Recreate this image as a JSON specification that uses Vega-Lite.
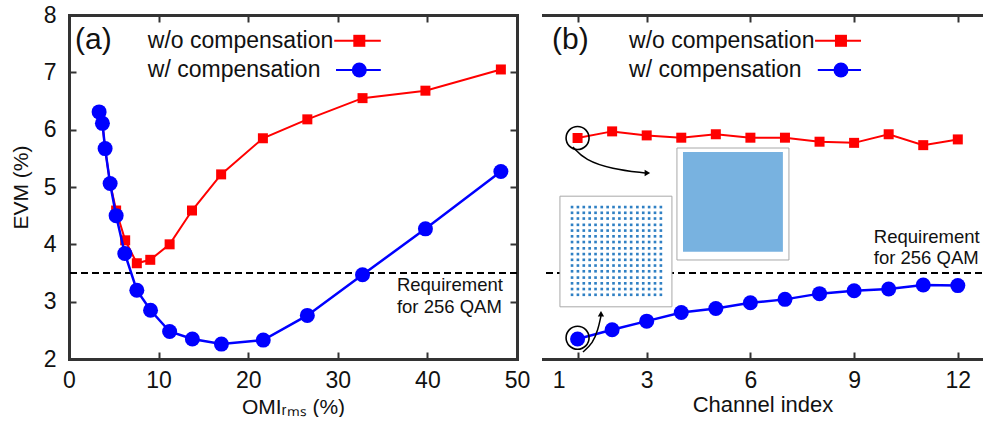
{
"$schema": "https://vega.github.io/schema/vega-lite/v6.json",
"padding": {"left": 10, "top": 4, "right": 0, "bottom": 0},
"spacing": 12,
"config": {
  "view": {"stroke": null},
  "font": "Liberation Sans",
  "axis": {"grid": false, "domainColor": "#333", "domainWidth": 3, "domainCap": "square", "tickColor": "#333", "tickWidth": 2, "tickSize": -7, "labelFontSize": 23, "labelColor": "#111", "labelPadding": 17, "labelFlush": false, "labelOverlap": false, "titleFontSize": 21, "titleFontWeight": "normal", "titleColor": "#111", "labelFont": "Liberation Sans", "titleFont": "Liberation Sans"},
  "text": {"font": "Liberation Sans"}
},
"datasets": {
  "L": [
    {"s":"wo","x":3.36,"y":6.31},{"s":"wo","x":3.73,"y":6.11},{"s":"wo","x":4.03,"y":5.67},{"s":"wo","x":4.59,"y":5.06},{"s":"wo","x":5.26,"y":4.59},{"s":"wo","x":6.27,"y":4.07},{"s":"wo","x":7.57,"y":3.67},{"s":"wo","x":9.07,"y":3.73},{"s":"wo","x":11.23,"y":4.0},{"s":"wo","x":13.73,"y":4.59},{"s":"wo","x":16.98,"y":5.22},{"s":"wo","x":21.64,"y":5.85},{"s":"wo","x":26.6,"y":6.18},{"s":"wo","x":32.76,"y":6.55},{"s":"wo","x":39.78,"y":6.68},{"s":"wo","x":48.2,"y":7.05},
    {"s":"w","x":3.36,"y":6.31},{"s":"w","x":3.73,"y":6.11},{"s":"w","x":4.03,"y":5.67},{"s":"w","x":4.59,"y":5.06},{"s":"w","x":5.26,"y":4.50},{"s":"w","x":6.23,"y":3.84},{"s":"w","x":7.57,"y":3.20},{"s":"w","x":9.10,"y":2.85},{"s":"w","x":11.23,"y":2.48},{"s":"w","x":13.77,"y":2.35},{"s":"w","x":17.01,"y":2.26},{"s":"w","x":21.68,"y":2.33},{"s":"w","x":26.6,"y":2.76},{"s":"w","x":32.76,"y":3.47},{"s":"w","x":39.78,"y":4.27},{"s":"w","x":48.2,"y":5.27}
  ],
  "R": [
    {"s":"wo","x":1,"y":5.855},{"s":"wo","x":2,"y":5.97},{"s":"wo","x":3,"y":5.90},{"s":"wo","x":4,"y":5.86},{"s":"wo","x":5,"y":5.92},{"s":"wo","x":6,"y":5.86},{"s":"wo","x":7,"y":5.86},{"s":"wo","x":8,"y":5.79},{"s":"wo","x":9,"y":5.77},{"s":"wo","x":10,"y":5.92},{"s":"wo","x":11,"y":5.73},{"s":"wo","x":12,"y":5.83},
    {"s":"w","x":1,"y":2.35},{"s":"w","x":2,"y":2.51},{"s":"w","x":3,"y":2.66},{"s":"w","x":4,"y":2.81},{"s":"w","x":5,"y":2.88},{"s":"w","x":6,"y":2.98},{"s":"w","x":7,"y":3.04},{"s":"w","x":8,"y":3.14},{"s":"w","x":9,"y":3.19},{"s":"w","x":10,"y":3.22},{"s":"w","x":11,"y":3.29},{"s":"w","x":12,"y":3.28}
  ],
  "qam": [
    {"x":0.84,"y":4.65},{"x":1.01,"y":4.65},{"x":1.18,"y":4.65},{"x":1.35,"y":4.65},{"x":1.52,"y":4.65},{"x":1.70,"y":4.65},{"x":1.87,"y":4.65},{"x":2.04,"y":4.65},{"x":2.21,"y":4.65},{"x":2.38,"y":4.65},{"x":2.55,"y":4.65},{"x":2.73,"y":4.65},{"x":2.90,"y":4.65},{"x":3.07,"y":4.65},{"x":3.24,"y":4.65},{"x":3.41,"y":4.65},
    {"x":0.84,"y":4.55},{"x":1.01,"y":4.55},{"x":1.18,"y":4.55},{"x":1.35,"y":4.55},{"x":1.52,"y":4.55},{"x":1.70,"y":4.55},{"x":1.87,"y":4.55},{"x":2.04,"y":4.55},{"x":2.21,"y":4.55},{"x":2.38,"y":4.55},{"x":2.55,"y":4.55},{"x":2.73,"y":4.55},{"x":2.90,"y":4.55},{"x":3.07,"y":4.55},{"x":3.24,"y":4.55},{"x":3.41,"y":4.55},
    {"x":0.84,"y":4.45},{"x":1.01,"y":4.45},{"x":1.18,"y":4.45},{"x":1.35,"y":4.45},{"x":1.52,"y":4.45},{"x":1.70,"y":4.45},{"x":1.87,"y":4.45},{"x":2.04,"y":4.45},{"x":2.21,"y":4.45},{"x":2.38,"y":4.45},{"x":2.55,"y":4.45},{"x":2.73,"y":4.45},{"x":2.90,"y":4.45},{"x":3.07,"y":4.45},{"x":3.24,"y":4.45},{"x":3.41,"y":4.45},
    {"x":0.84,"y":4.34},{"x":1.01,"y":4.34},{"x":1.18,"y":4.34},{"x":1.35,"y":4.34},{"x":1.52,"y":4.34},{"x":1.70,"y":4.34},{"x":1.87,"y":4.34},{"x":2.04,"y":4.34},{"x":2.21,"y":4.34},{"x":2.38,"y":4.34},{"x":2.55,"y":4.34},{"x":2.73,"y":4.34},{"x":2.90,"y":4.34},{"x":3.07,"y":4.34},{"x":3.24,"y":4.34},{"x":3.41,"y":4.34},
    {"x":0.84,"y":4.24},{"x":1.01,"y":4.24},{"x":1.18,"y":4.24},{"x":1.35,"y":4.24},{"x":1.52,"y":4.24},{"x":1.70,"y":4.24},{"x":1.87,"y":4.24},{"x":2.04,"y":4.24},{"x":2.21,"y":4.24},{"x":2.38,"y":4.24},{"x":2.55,"y":4.24},{"x":2.73,"y":4.24},{"x":2.90,"y":4.24},{"x":3.07,"y":4.24},{"x":3.24,"y":4.24},{"x":3.41,"y":4.24},
    {"x":0.84,"y":4.14},{"x":1.01,"y":4.14},{"x":1.18,"y":4.14},{"x":1.35,"y":4.14},{"x":1.52,"y":4.14},{"x":1.70,"y":4.14},{"x":1.87,"y":4.14},{"x":2.04,"y":4.14},{"x":2.21,"y":4.14},{"x":2.38,"y":4.14},{"x":2.55,"y":4.14},{"x":2.73,"y":4.14},{"x":2.90,"y":4.14},{"x":3.07,"y":4.14},{"x":3.24,"y":4.14},{"x":3.41,"y":4.14},
    {"x":0.84,"y":4.04},{"x":1.01,"y":4.04},{"x":1.18,"y":4.04},{"x":1.35,"y":4.04},{"x":1.52,"y":4.04},{"x":1.70,"y":4.04},{"x":1.87,"y":4.04},{"x":2.04,"y":4.04},{"x":2.21,"y":4.04},{"x":2.38,"y":4.04},{"x":2.55,"y":4.04},{"x":2.73,"y":4.04},{"x":2.90,"y":4.04},{"x":3.07,"y":4.04},{"x":3.24,"y":4.04},{"x":3.41,"y":4.04},
    {"x":0.84,"y":3.93},{"x":1.01,"y":3.93},{"x":1.18,"y":3.93},{"x":1.35,"y":3.93},{"x":1.52,"y":3.93},{"x":1.70,"y":3.93},{"x":1.87,"y":3.93},{"x":2.04,"y":3.93},{"x":2.21,"y":3.93},{"x":2.38,"y":3.93},{"x":2.55,"y":3.93},{"x":2.73,"y":3.93},{"x":2.90,"y":3.93},{"x":3.07,"y":3.93},{"x":3.24,"y":3.93},{"x":3.41,"y":3.93},
    {"x":0.84,"y":3.83},{"x":1.01,"y":3.83},{"x":1.18,"y":3.83},{"x":1.35,"y":3.83},{"x":1.52,"y":3.83},{"x":1.70,"y":3.83},{"x":1.87,"y":3.83},{"x":2.04,"y":3.83},{"x":2.21,"y":3.83},{"x":2.38,"y":3.83},{"x":2.55,"y":3.83},{"x":2.73,"y":3.83},{"x":2.90,"y":3.83},{"x":3.07,"y":3.83},{"x":3.24,"y":3.83},{"x":3.41,"y":3.83},
    {"x":0.84,"y":3.73},{"x":1.01,"y":3.73},{"x":1.18,"y":3.73},{"x":1.35,"y":3.73},{"x":1.52,"y":3.73},{"x":1.70,"y":3.73},{"x":1.87,"y":3.73},{"x":2.04,"y":3.73},{"x":2.21,"y":3.73},{"x":2.38,"y":3.73},{"x":2.55,"y":3.73},{"x":2.73,"y":3.73},{"x":2.90,"y":3.73},{"x":3.07,"y":3.73},{"x":3.24,"y":3.73},{"x":3.41,"y":3.73},
    {"x":0.84,"y":3.63},{"x":1.01,"y":3.63},{"x":1.18,"y":3.63},{"x":1.35,"y":3.63},{"x":1.52,"y":3.63},{"x":1.70,"y":3.63},{"x":1.87,"y":3.63},{"x":2.04,"y":3.63},{"x":2.21,"y":3.63},{"x":2.38,"y":3.63},{"x":2.55,"y":3.63},{"x":2.73,"y":3.63},{"x":2.90,"y":3.63},{"x":3.07,"y":3.63},{"x":3.24,"y":3.63},{"x":3.41,"y":3.63},
    {"x":0.84,"y":3.53},{"x":1.01,"y":3.53},{"x":1.18,"y":3.53},{"x":1.35,"y":3.53},{"x":1.52,"y":3.53},{"x":1.70,"y":3.53},{"x":1.87,"y":3.53},{"x":2.04,"y":3.53},{"x":2.21,"y":3.53},{"x":2.38,"y":3.53},{"x":2.55,"y":3.53},{"x":2.73,"y":3.53},{"x":2.90,"y":3.53},{"x":3.07,"y":3.53},{"x":3.24,"y":3.53},{"x":3.41,"y":3.53},
    {"x":0.84,"y":3.42},{"x":1.01,"y":3.42},{"x":1.18,"y":3.42},{"x":1.35,"y":3.42},{"x":1.52,"y":3.42},{"x":1.70,"y":3.42},{"x":1.87,"y":3.42},{"x":2.04,"y":3.42},{"x":2.21,"y":3.42},{"x":2.38,"y":3.42},{"x":2.55,"y":3.42},{"x":2.73,"y":3.42},{"x":2.90,"y":3.42},{"x":3.07,"y":3.42},{"x":3.24,"y":3.42},{"x":3.41,"y":3.42},
    {"x":0.84,"y":3.32},{"x":1.01,"y":3.32},{"x":1.18,"y":3.32},{"x":1.35,"y":3.32},{"x":1.52,"y":3.32},{"x":1.70,"y":3.32},{"x":1.87,"y":3.32},{"x":2.04,"y":3.32},{"x":2.21,"y":3.32},{"x":2.38,"y":3.32},{"x":2.55,"y":3.32},{"x":2.73,"y":3.32},{"x":2.90,"y":3.32},{"x":3.07,"y":3.32},{"x":3.24,"y":3.32},{"x":3.41,"y":3.32},
    {"x":0.84,"y":3.22},{"x":1.01,"y":3.22},{"x":1.18,"y":3.22},{"x":1.35,"y":3.22},{"x":1.52,"y":3.22},{"x":1.70,"y":3.22},{"x":1.87,"y":3.22},{"x":2.04,"y":3.22},{"x":2.21,"y":3.22},{"x":2.38,"y":3.22},{"x":2.55,"y":3.22},{"x":2.73,"y":3.22},{"x":2.90,"y":3.22},{"x":3.07,"y":3.22},{"x":3.24,"y":3.22},{"x":3.41,"y":3.22},
    {"x":0.84,"y":3.12},{"x":1.01,"y":3.12},{"x":1.18,"y":3.12},{"x":1.35,"y":3.12},{"x":1.52,"y":3.12},{"x":1.70,"y":3.12},{"x":1.87,"y":3.12},{"x":2.04,"y":3.12},{"x":2.21,"y":3.12},{"x":2.38,"y":3.12},{"x":2.55,"y":3.12},{"x":2.73,"y":3.12},{"x":2.90,"y":3.12},{"x":3.07,"y":3.12},{"x":3.24,"y":3.12},{"x":3.41,"y":3.12}
  ]
},
"hconcat": [
  {
    "width": 448, "height": 344,
    "layer": [
      {"data": {"values": [{"y": 3.5}]}, "mark": {"type": "rule", "strokeDash": [7, 4], "strokeWidth": 2, "color": "black"},
       "encoding": {"y": {"field": "y", "type": "quantitative", "axis": null}}},
      {"data": {"name": "L"}, "transform": [{"filter": "datum.s === 'wo'"}],
       "mark": {"type": "line", "color": "#ff0000", "strokeWidth": 2},
       "encoding": {
         "x": {"field": "x", "type": "quantitative", "scale": {"domain": [0, 50], "nice": false, "zero": false},
               "axis": {"orient": "bottom", "values": [0, 10, 20, 30, 40, 50], "title": "OMIᵣₘₛ (%)", "titlePadding": 4}},
         "y": {"field": "y", "type": "quantitative", "scale": {"domain": [2, 8], "nice": false, "zero": false},
               "axis": {"orient": "left", "values": [2, 3, 4, 5, 6, 7, 8], "title": "EVM (%)", "titlePadding": 12, "labelPadding": 20}}}},
      {"data": {"name": "L"}, "transform": [{"filter": "datum.s === 'wo'"}],
       "mark": {"type": "point", "shape": "square", "filled": true, "color": "#ff0000", "size": 100, "opacity": 1},
       "encoding": {"x": {"field": "x", "type": "quantitative", "axis": null}, "y": {"field": "y", "type": "quantitative", "axis": null}}},
      {"data": {"name": "L"}, "transform": [{"filter": "datum.s === 'w'"}],
       "mark": {"type": "line", "color": "#0000ff", "strokeWidth": 2.5},
       "encoding": {
         "x": {"field": "x", "type": "quantitative", "axis": {"orient": "top", "values": [0, 10, 20, 30, 40, 50], "labels": false, "title": null}},
         "y": {"field": "y", "type": "quantitative", "axis": {"orient": "right", "values": [2, 3, 4, 5, 6, 7, 8], "labels": false, "title": null}}}},
      {"data": {"name": "L"}, "transform": [{"filter": "datum.s === 'w'"}],
       "mark": {"type": "point", "shape": "circle", "filled": true, "color": "#0000ff", "size": 225, "opacity": 1},
       "encoding": {"x": {"field": "x", "type": "quantitative", "axis": null}, "y": {"field": "y", "type": "quantitative", "axis": null}}},
      {"data": {"values": [{"x": 0.67, "y": 7.56, "t": "(a)"}]},
       "mark": {"type": "text", "align": "left", "baseline": "middle", "fontSize": 30, "color": "#111"},
       "encoding": {"x": {"field": "x", "type": "quantitative", "axis": null}, "y": {"field": "y", "type": "quantitative", "axis": null}, "text": {"field": "t"}}},
      {"data": {"values": [{"x": 8.8, "y": 7.55, "t": "w/o compensation"}, {"x": 8.8, "y": 7.04, "t": "w/ compensation"}]},
       "mark": {"type": "text", "align": "left", "baseline": "middle", "fontSize": 23, "color": "#111"},
       "encoding": {"x": {"field": "x", "type": "quantitative", "axis": null}, "y": {"field": "y", "type": "quantitative", "axis": null}, "text": {"field": "t"}}},
      {"data": {"values": [{"x": 36.6, "y": 3.29, "t": "Requirement"}, {"x": 36.6, "y": 2.91, "t": "for 256 QAM"}]},
       "mark": {"type": "text", "align": "left", "baseline": "middle", "fontSize": 18.5, "color": "#111"},
       "encoding": {"x": {"field": "x", "type": "quantitative", "axis": null}, "y": {"field": "y", "type": "quantitative", "axis": null}, "text": {"field": "t"}}},
      {"data": {"values": [{"s": "wo", "x": 29.6, "x2": 34.8, "y": 7.55}, {"s": "w", "x": 29.8, "x2": 34.8, "y": 7.04}]},
       "mark": {"type": "rule", "strokeWidth": 2},
       "encoding": {"x": {"field": "x", "type": "quantitative", "axis": null}, "x2": {"field": "x2"}, "y": {"field": "y", "type": "quantitative", "axis": null},
                    "color": {"field": "s", "type": "nominal", "scale": {"domain": ["wo", "w"], "range": ["#ff0000", "#0000ff"]}, "legend": null}}},
      {"data": {"values": [{"s": "wo", "x": 32.4, "y": 7.55}, {"s": "w", "x": 32.4, "y": 7.04}]},
       "mark": {"type": "point", "filled": true, "opacity": 1},
       "encoding": {"x": {"field": "x", "type": "quantitative", "axis": null}, "y": {"field": "y", "type": "quantitative", "axis": null},
                    "color": {"field": "s", "type": "nominal", "scale": {"domain": ["wo", "w"], "range": ["#ff0000", "#0000ff"]}, "legend": null},
                    "shape": {"field": "s", "type": "nominal", "scale": {"domain": ["wo", "w"], "range": ["square", "circle"]}, "legend": null},
                    "size": {"field": "s", "type": "nominal", "scale": {"domain": ["wo", "w"], "range": [144, 225]}, "legend": null}}}
    ]
  },
  {
    "width": 439, "height": 344,
    "layer": [
      {"data": {"values": [{"y": 3.5}]}, "mark": {"type": "rule", "strokeDash": [7, 4], "strokeWidth": 2, "color": "black"},
       "encoding": {"y": {"field": "y", "type": "quantitative", "axis": null}}},
      {"data": {"values": [{"x": 0.49, "x2": 3.73, "y": 4.84, "y2": 2.91}, {"x": 3.875, "x2": 7.115, "y": 5.68, "y2": 3.727}]},
       "mark": {"type": "rect", "fill": "white", "stroke": "#a8a8a8", "strokeWidth": 1},
       "encoding": {"x": {"field": "x", "type": "quantitative", "axis": null}, "x2": {"field": "x2"}, "y": {"field": "y", "type": "quantitative", "axis": null}, "y2": {"field": "y2"}}},
      {"data": {"values": [{"x": 4.05, "x2": 6.94, "y": 5.61, "y2": 3.87}]},
       "mark": {"type": "rect", "fill": "#78b2e0"},
       "encoding": {"x": {"field": "x", "type": "quantitative", "axis": null}, "x2": {"field": "x2"}, "y": {"field": "y", "type": "quantitative", "axis": null}, "y2": {"field": "y2"}}},
      {"data": {"name": "qam"},
       "mark": {"type": "point", "shape": "square", "filled": true, "color": "#2f80c4", "size": 7, "opacity": 1},
       "encoding": {"x": {"field": "x", "type": "quantitative", "axis": null}, "y": {"field": "y", "type": "quantitative", "axis": null}}},
      {"data": {"name": "R"}, "transform": [{"filter": "datum.s === 'wo'"}],
       "mark": {"type": "line", "color": "#ff0000", "strokeWidth": 2},
       "encoding": {
         "x": {"field": "x", "type": "quantitative", "scale": {"domain": [0, 12.7], "nice": false, "zero": false},
               "axis": {"orient": "bottom", "values": [1, 3, 6, 9, 12], "title": "Channel index", "titleFontSize": 22, "titlePadding": 2,
                        "labelOffset": {"condition": {"test": "datum.value === 1", "value": -19}, "value": 0}}},
         "y": {"field": "y", "type": "quantitative", "scale": {"domain": [2, 8], "nice": false, "zero": false},
               "axis": {"orient": "left", "values": [2, 3, 4, 5, 6, 7, 8], "labels": false, "title": null}}}},
      {"data": {"name": "R"}, "transform": [{"filter": "datum.s === 'wo'"}],
       "mark": {"type": "point", "shape": "square", "filled": true, "color": "#ff0000", "size": 100, "opacity": 1},
       "encoding": {"x": {"field": "x", "type": "quantitative", "axis": null}, "y": {"field": "y", "type": "quantitative", "axis": null}}},
      {"data": {"name": "R"}, "transform": [{"filter": "datum.s === 'w'"}],
       "mark": {"type": "line", "color": "#0000ff", "strokeWidth": 2.5},
       "encoding": {
         "x": {"field": "x", "type": "quantitative", "axis": {"orient": "top", "values": [1, 3, 6, 9, 12], "labels": false, "title": null}},
         "y": {"field": "y", "type": "quantitative", "axis": null}}},
      {"data": {"name": "R"}, "transform": [{"filter": "datum.s === 'w'"}],
       "mark": {"type": "point", "shape": "circle", "filled": true, "color": "#0000ff", "size": 225, "opacity": 1},
       "encoding": {"x": {"field": "x", "type": "quantitative", "axis": null}, "y": {"field": "y", "type": "quantitative", "axis": null}}},
      {"data": {"values": [{"x": 1, "y": 5.855}, {"x": 1, "y": 2.37}]},
       "mark": {"type": "point", "shape": "circle", "filled": false, "color": "black", "strokeWidth": 1.6, "size": 529, "opacity": 1},
       "encoding": {"x": {"field": "x", "type": "quantitative", "axis": null}, "y": {"field": "y", "type": "quantitative", "axis": null}}},
      {"data": {"values": [
         {"g": "u", "o": 1, "x": 0.867, "y": 5.698}, {"g": "u", "o": 2, "x": 1.214, "y": 5.471}, {"g": "u", "o": 3, "x": 1.995, "y": 5.314}, {"g": "u", "o": 4, "x": 2.95, "y": 5.244},
         {"g": "d", "o": 1, "x": 1.156, "y": 2.122}, {"g": "d", "o": 2, "x": 1.445, "y": 2.279}, {"g": "d", "o": 3, "x": 1.589, "y": 2.506}, {"g": "d", "o": 4, "x": 1.677, "y": 2.75}]},
       "mark": {"type": "line", "color": "black", "strokeWidth": 1.5, "interpolate": "basis"},
       "encoding": {"x": {"field": "x", "type": "quantitative", "axis": null}, "y": {"field": "y", "type": "quantitative", "axis": null}, "detail": {"field": "g"}, "order": {"field": "o", "type": "quantitative"}}},
      {"data": {"values": [{"x": 3.02, "y": 5.244, "sh": "triangle-right"}, {"x": 1.677, "y": 2.79, "sh": "triangle-up"}]},
       "mark": {"type": "point", "filled": true, "color": "black", "size": 40, "opacity": 1},
       "encoding": {"x": {"field": "x", "type": "quantitative", "axis": null}, "y": {"field": "y", "type": "quantitative", "axis": null},
                    "shape": {"field": "sh", "type": "nominal", "scale": null}}},
      {"data": {"values": [{"x": 0.26, "y": 7.56, "t": "(b)"}]},
       "mark": {"type": "text", "align": "left", "baseline": "middle", "fontSize": 30, "color": "#111"},
       "encoding": {"x": {"field": "x", "type": "quantitative", "axis": null}, "y": {"field": "y", "type": "quantitative", "axis": null}, "text": {"field": "t"}}},
      {"data": {"values": [{"x": 2.49, "y": 7.55, "t": "w/o compensation"}, {"x": 2.49, "y": 7.04, "t": "w/ compensation"}]},
       "mark": {"type": "text", "align": "left", "baseline": "middle", "fontSize": 23, "color": "#111"},
       "encoding": {"x": {"field": "x", "type": "quantitative", "axis": null}, "y": {"field": "y", "type": "quantitative", "axis": null}, "text": {"field": "t"}}},
      {"data": {"values": [{"x": 9.57, "y": 4.13, "t": "Requirement"}, {"x": 9.57, "y": 3.76, "t": "for 256 QAM"}]},
       "mark": {"type": "text", "align": "left", "baseline": "middle", "fontSize": 18.5, "color": "#111"},
       "encoding": {"x": {"field": "x", "type": "quantitative", "axis": null}, "y": {"field": "y", "type": "quantitative", "axis": null}, "text": {"field": "t"}}},
      {"data": {"values": [{"s": "wo", "x": 7.87, "x2": 9.2, "y": 7.55}, {"s": "w", "x": 7.95, "x2": 9.2, "y": 7.04}]},
       "mark": {"type": "rule", "strokeWidth": 2},
       "encoding": {"x": {"field": "x", "type": "quantitative", "axis": null}, "x2": {"field": "x2"}, "y": {"field": "y", "type": "quantitative", "axis": null},
                    "color": {"field": "s", "type": "nominal", "scale": {"domain": ["wo", "w"], "range": ["#ff0000", "#0000ff"]}, "legend": null}}},
      {"data": {"values": [{"s": "wo", "x": 8.62, "y": 7.55}, {"s": "w", "x": 8.62, "y": 7.04}]},
       "mark": {"type": "point", "filled": true, "opacity": 1},
       "encoding": {"x": {"field": "x", "type": "quantitative", "axis": null}, "y": {"field": "y", "type": "quantitative", "axis": null},
                    "color": {"field": "s", "type": "nominal", "scale": {"domain": ["wo", "w"], "range": ["#ff0000", "#0000ff"]}, "legend": null},
                    "shape": {"field": "s", "type": "nominal", "scale": {"domain": ["wo", "w"], "range": ["square", "circle"]}, "legend": null},
                    "size": {"field": "s", "type": "nominal", "scale": {"domain": ["wo", "w"], "range": [144, 225]}, "legend": null}}}
    ]
  }
]
}
